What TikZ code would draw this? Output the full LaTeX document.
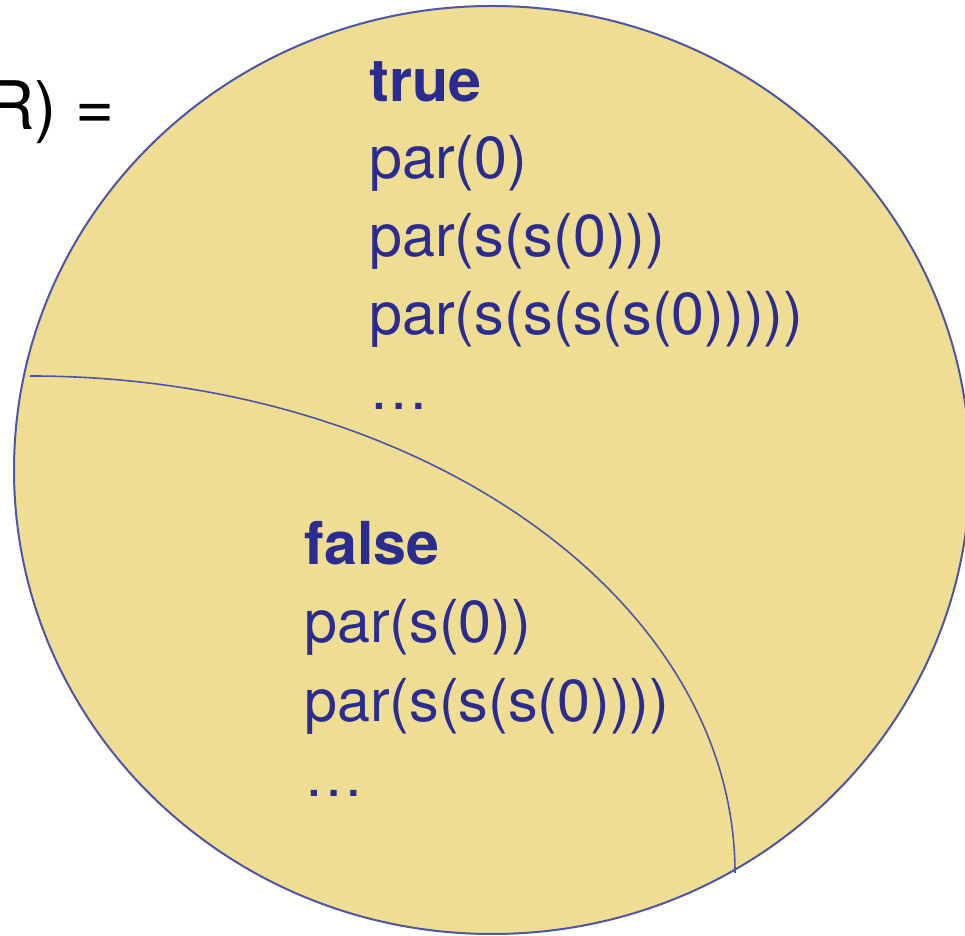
\documentclass[tikz,border=0pt]{standalone}
\usepackage{fontspec}
\setmainfont{TeX Gyre Heros}
\definecolor{setfill}{RGB}{239,221,147}
\definecolor{setline}{RGB}{76,86,164}
\definecolor{txtblue}{RGB}{43,44,143}
\begin{document}
\begin{tikzpicture}[x=0.5pt,y=0.5pt,
  term/.style={anchor=base west,inner sep=0pt,text=txtblue,font=\fontsize{29.6}{35}\selectfont},
  head/.style={term,font=\fontsize{29.6}{35}\selectfont\bfseries}]
\useasboundingbox (0,0) rectangle (965,936);
\clip (0,0) rectangle (965,936);
\filldraw[fill=setfill,draw=setline,line width=1pt] (492,466) ellipse [x radius=239pt, y radius=232pt];
\draw[setline,line width=0.8pt] (30,560) arc[start angle=90,end angle=0,x radius=352.5pt,y radius=248.5pt];
\node[anchor=base east,inner sep=0pt,font=\fontsize{33.5}{40}\selectfont] (lhs) at (115,806) {R) =};
\node[head] (t0) at (369,834) {true};
\node[term] (t1) at (369,757) {par(0)};
\node[term] (t2) at (369,679) {par(s(s(0)))};
\node[term] (t3) at (369,601) {par(s(s(s(s(0)))))};
\node[term] (t4) at (369,526) {…};
\node[head] (f0) at (304,371) {false};
\node[term] (f1) at (304,293) {par(s(0))};
\node[term] (f2) at (304,214) {par(s(s(s(0))))};
\node[term] (f3) at (304,139) {…};
\end{tikzpicture}
\end{document}
